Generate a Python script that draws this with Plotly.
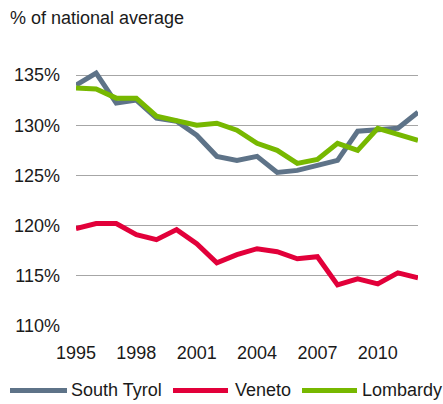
import plotly.graph_objects as go

YEARS = list(range(1995, 2013))

SOUTH_TYROL = [134.0, 135.2, 132.2, 132.5, 130.7, 130.4, 129.0, 126.9, 126.5,
               126.9, 125.3, 125.5, 126.0, 126.5, 129.4, 129.5, 129.7, 131.3]
VENETO = [119.7, 120.2, 120.2, 119.1, 118.6, 119.6, 118.2, 116.3, 117.1,
          117.7, 117.4, 116.7, 116.9, 114.1, 114.7, 114.2, 115.3, 114.8]
LOMBARDY = [133.7, 133.6, 132.7, 132.7, 130.9, 130.4, 130.0, 130.2, 129.5,
            128.2, 127.5, 126.2, 126.6, 128.2, 127.5, 129.7, 129.1, 128.5]

SERIES_NAMES = ["South Tyrol", "Veneto", "Lombardy"]
SERIES_COLORS = ["#5e7388", "#e2003a", "#77b800"]

Y_TICKS = [110, 115, 120, 125, 130, 135]
X_TICKS = [1995, 1998, 2001, 2004, 2007, 2010]

FONT = "Liberation Sans, Arial, sans-serif"

W, H = 443, 404
M_L, M_R, M_T, M_B = 76, 25, 65, 78
PLOT_W = W - M_L - M_R
PLOT_H = H - M_T - M_B


def px_to_paper(px, py):
    # pixel position in the page -> paper coordinates
    return (px - M_L) / PLOT_W, (H - M_B - py) / PLOT_H


fig = go.Figure()
for name, values, color in zip(SERIES_NAMES, [SOUTH_TYROL, VENETO, LOMBARDY], SERIES_COLORS):
    fig.add_trace(go.Scatter(
        x=YEARS, y=values,
        mode="lines",
        name=name,
        line=dict(color=color, width=5),
        showlegend=False,
    ))

# Hand-made legend along the bottom: line swatch then label
legend_items = [(10, 67, 69), (173, 228, 233), (302, 357, 360)]
shapes, annotations = [], []
for (x0, x1, tx), name, color in zip(legend_items, SERIES_NAMES, SERIES_COLORS):
    px0, py = px_to_paper(x0, 390.5)
    px1, _ = px_to_paper(x1, 390.5)
    shapes.append(dict(type="line", xref="paper", yref="paper",
                       x0=px0, x1=px1, y0=py, y1=py,
                       line=dict(color=color, width=5)))
    ptx, pty = px_to_paper(tx, 390)
    annotations.append(dict(text=name, xref="paper", yref="paper",
                            x=ptx, y=pty, xanchor="left", yanchor="middle",
                            showarrow=False, font=dict(size=18)))

ttx, tty = px_to_paper(8, 18)
annotations.append(dict(text="% of national average", xref="paper", yref="paper",
                        x=ttx, y=tty, xanchor="left", yanchor="middle",
                        showarrow=False, font=dict(size=18)))

fig.update_layout(
    width=W, height=H,
    margin=dict(l=M_L, r=M_R, t=M_T, b=M_B, autoexpand=False),
    plot_bgcolor="white",
    paper_bgcolor="white",
    font=dict(family=FONT, size=18, color="#1a1a1a"),
    xaxis=dict(
        range=[1995, 2012],
        tickvals=X_TICKS,
        showgrid=False, zeroline=False, showline=False,
        ticks="", ticklabelstandoff=14,
    ),
    yaxis=dict(
        range=[110, 136],
        tickvals=Y_TICKS,
        ticktext=[f"{v}%" for v in Y_TICKS],
        showgrid=True, gridcolor="#a6a6a6", gridwidth=1,
        zeroline=False, showline=False,
        ticks="", ticklabelstandoff=15,
    ),
    shapes=shapes,
    annotations=annotations,
    showlegend=False,
)

# the page body has a default 8px margin; drop it so the figure sits at 0,0
fig.write_html("out.html", config={"displayModeBar": False},
               post_script="document.body.style.margin='0';")
